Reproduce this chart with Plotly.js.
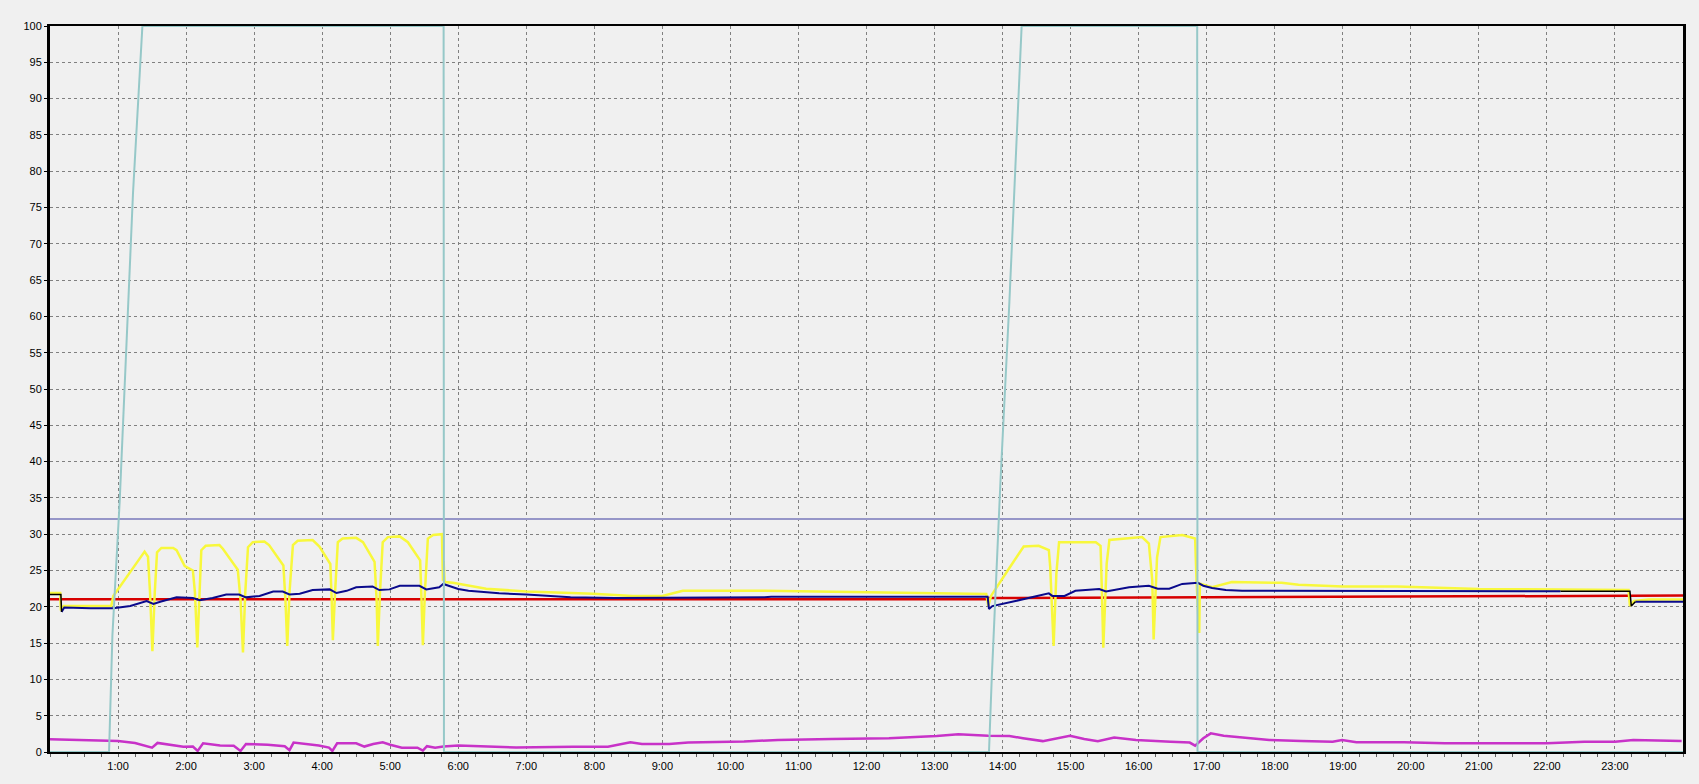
<!DOCTYPE html>
<html>
<head>
<meta charset="utf-8">
<script src="https://cdn.plot.ly/plotly-3.0.1.min.js"></script>
<style>
html,body{margin:0;padding:0;background:#f0f0f0;}
#chart{width:1699px;height:784px;}
</style>
</head>
<body>
<div id="chart"></div>
<script>
// x = hour of day, y = value
const tickHours = [1,2,3,4,5,6,7,8,9,10,11,12,13,14,15,16,17,18,19,20,21,22,23];
const tickLabels = ["1:00","2:00","3:00","4:00","5:00","6:00","7:00","8:00","9:00","10:00","11:00","12:00","13:00","14:00","15:00","16:00","17:00","18:00","19:00","20:00","21:00","22:00","23:00"];

const limitLine = [[0,32.1],[24,32.1]];

const cyanPts = [[0,0],[0.868,0],[0.917,16],[0.976,25.5],[1.025,34.7],[1.22,77],[1.295,90],[1.358,100],
  [5.785,100],[5.79,0],[13.80,0],[13.84,10],[13.97,37.5],[14.1,62],[14.28,100],[16.86,100],[16.865,0],[24,0]];

const redPts = [[0,21.05],[13.78,21.05],[13.8,21.2],[16.85,21.3],[16.9,21.4],[21.0,21.45],[24,21.55]];

const yellowPts = [[0,21.9],[0.15,21.9],[0.16,19.5],[0.2,20.1],[0.9,20.1],[0.93,21.5],[1.39,27.6],[1.44,26.9],[1.47,22],[1.505,13.9],[1.54,22],
  [1.573,27.5],[1.637,28.1],[1.81,28.1],[1.86,27.8],[1.98,25.6],[2.10,25.0],[2.13,22],[2.165,14.4],[2.2,22],
  [2.224,27.8],[2.288,28.4],[2.49,28.5],[2.54,28.0],[2.71,25.7],[2.76,25.1],[2.80,21],[2.836,13.7],[2.87,22],
  [2.91,28.2],[2.98,28.9],[3.15,29.0],[3.22,28.5],[3.37,26.4],[3.43,25.7],[3.46,21],[3.487,14.6],[3.52,22],
  [3.57,28.5],[3.64,29.1],[3.86,29.2],[3.96,28.3],[4.08,26.4],[4.12,25.9],[4.14,21],[4.157,15.4],[4.19,22],
  [4.23,28.9],[4.30,29.4],[4.50,29.5],[4.60,28.9],[4.73,26.9],[4.77,26.2],[4.80,21],[4.818,14.6],[4.85,22],
  [4.89,28.9],[4.965,29.6],[5.14,29.7],[5.26,28.9],[5.41,26.9],[5.44,26.4],[5.46,21],[5.48,14.7],[5.51,22],
  [5.553,29.4],[5.63,29.9],[5.76,30.0],[5.775,23.6],[5.785,26.3],[5.80,23.4],[5.92,23.3],[6.41,22.5],[7.0,22.1],
  [7.98,21.8],[8.56,21.5],[9.0,21.5],[9.30,22.2],[10.5,22.2],[11.3,22.1],[12.3,21.9],[13.2,21.8],[13.76,21.76],
  [13.79,20.1],[13.83,21.5],[14.09,25.2],[14.31,28.3],[14.53,28.4],[14.68,27.8],[14.70,25.5],[14.75,14.6],[14.79,24.5],
  [14.83,28.9],[15.37,28.9],[15.44,28.4],[15.46,22],[15.48,14.35],[15.53,26],[15.57,29.2],[16.05,29.6],[16.15,28.7],
  [16.20,23.6],[16.22,15.5],[16.27,26.8],[16.32,29.6],[16.64,29.9],[16.83,29.4],[16.85,23.6],[16.89,16.4],[16.90,23.2],
  [17.08,22.7],[17.37,23.4],[18.1,23.3],[18.35,23.05],[19.0,22.8],[19.8,22.8],[21.0,22.45],[22.2,22.4],[23.2,22.3],
  [23.22,20.1],[23.28,20.8],[23.5,21.0],[24,21.0]];

const bluePts = [[0.17,19.3],[0.21,19.9],[0.6,19.8],[0.93,19.8],[1.18,20.1],[1.42,20.8],[1.52,20.4],[1.62,20.7],[1.86,21.3],
  [2.1,21.2],[2.2,20.9],[2.39,21.2],[2.59,21.7],[2.78,21.7],[2.88,21.3],[3.08,21.5],[3.28,22.1],[3.42,22.1],[3.52,21.7],
  [3.67,21.8],[3.86,22.3],[4.11,22.4],[4.21,21.9],[4.36,22.2],[4.50,22.7],[4.74,22.8],[4.84,22.3],[4.99,22.4],[5.14,22.9],
  [5.43,22.9],[5.53,22.4],[5.72,22.7],[5.78,23.15],[6.0,22.45],[6.15,22.2],[6.6,21.85],[7.0,21.7],[7.3,21.5],[7.65,21.3],
  [8.3,21.2],[8.9,21.2],[9.3,21.3],[10.5,21.3],[10.6,21.4],[12,21.4],[13.78,21.4],[13.80,19.7],[13.85,20.1],[14.19,20.8],
  [14.49,21.5],[14.68,21.85],[14.73,21.5],[14.91,21.5],[15.07,22.2],[15.42,22.45],[15.52,22.1],[15.86,22.7],[16.15,22.9],
  [16.28,22.5],[16.45,22.5],[16.64,23.15],[16.87,23.3],[16.95,22.9],[17.08,22.6],[17.28,22.3],[17.52,22.2],[19.0,22.2],
  [21.2,22.2],[22.2,22.15],[null,null],[23.3,20.7],[24,20.7]];

const blackPts = [[0,21.7],[0.16,21.7],[0.17,19.3],[null,null],[22.2,22.15],[23.22,22.15],[23.24,20.1],[23.3,20.7]];

const magentaPts = [[0,1.75],[0.5,1.65],[0.9,1.6],[1.0,1.5],[1.25,1.25],[1.45,0.8],[1.5,0.6],[1.58,1.25],[1.7,1.1],[1.96,0.73],
  [2.1,0.75],[2.17,0.15],[2.25,1.2],[2.5,0.9],[2.7,0.85],[2.80,0.15],[2.88,1.1],[3.2,1.0],[3.45,0.8],[3.52,0.25],[3.58,1.3],
  [3.75,1.1],[3.95,0.9],[4.10,0.6],[4.15,0.14],[4.22,1.2],[4.5,1.2],[4.62,0.75],[4.75,1.1],[4.89,1.33],[5.0,1.0],[5.17,0.6],
  [5.4,0.6],[5.48,0.2],[5.54,0.8],[5.66,0.6],[5.78,0.75],[6.0,0.9],[6.43,0.73],[6.85,0.63],[7.69,0.73],[8.2,0.73],[8.53,1.33],
  [8.7,1.1],[9.1,1.1],[9.38,1.3],[10.2,1.45],[10.7,1.65],[11.49,1.8],[12.33,1.88],[13.03,2.2],[13.35,2.43],[13.79,2.25],
  [14.10,2.2],[14.3,1.9],[14.59,1.5],[14.99,2.25],[15.2,1.8],[15.4,1.5],[15.64,2.0],[15.96,1.65],[16.2,1.5],[16.47,1.42],
  [16.75,1.3],[16.83,0.87],[16.95,1.9],[17.06,2.57],[17.25,2.25],[17.6,1.97],[17.92,1.65],[18.39,1.5],[18.85,1.42],[18.99,1.65],
  [19.2,1.33],[19.9,1.33],[20.5,1.2],[21.3,1.19],[22.0,1.19],[22.55,1.42],[23.0,1.42],[23.27,1.65],[23.98,1.51]];

function xs(p){return p.map(d=>d[0]);}
function ys(p){return p.map(d=>d[1]);}
function tr(p,color,width,clip){
  return {x:xs(p),y:ys(p),type:'scatter',mode:'lines',connectgaps:false,
    line:{color:color,width:width},hoverinfo:'skip',cliponaxis:clip===undefined?true:clip};
}

const traces = [
  tr(limitLine,'rgb(150,150,200)',2),
  tr(magentaPts,'rgb(200,50,200)',2.5),
  tr(redPts,'rgb(215,0,0)',2.5),
  tr(yellowPts,'rgb(248,248,60)',2.5),
  tr(bluePts,'rgb(10,10,140)',2),
  tr(blackPts,'rgb(0,0,0)',1.5),
  tr(cyanPts,'rgb(150,200,200)',2,false)
];

const layout = {
  width:1699, height:784,
  paper_bgcolor:'#f0f0f0', plot_bgcolor:'#f0f0f0',
  showlegend:false,
  margin:{l:50,r:16,t:26,b:32,pad:0},
  font:{family:'Liberation Sans, Arial, sans-serif',size:11,color:'#000'},
  xaxis:{
    range:[0,24], tickmode:'array', tickvals:tickHours, ticktext:tickLabels,
    showgrid:true, gridcolor:'#808080', gridwidth:1, griddash:'3px,3px',
    zeroline:false, showline:true, linecolor:'#000', linewidth:2, mirror:true,
    ticks:'outside', ticklen:3, tickcolor:'#606060', tickwidth:1,
    minor:{dtick:0.25, tick0:0, ticks:'outside', ticklen:3, tickcolor:'#606060', showgrid:false},
    layer:'below traces', fixedrange:true,
    tickfont:{family:'Liberation Sans, Arial, sans-serif',size:11,color:'#000'}
  },
  yaxis:{
    range:[0,100], dtick:5, tick0:0,
    showgrid:true, gridcolor:'#808080', gridwidth:1, griddash:'3px,3px',
    zeroline:false, showline:true, linecolor:'#000', linewidth:3, mirror:true,
    ticks:'outside', ticklen:3, tickcolor:'#000', tickwidth:1,
    layer:'below traces', fixedrange:true,
    tickfont:{family:'Liberation Sans, Arial, sans-serif',size:11,color:'#000'}
  }
};

Plotly.newPlot('chart', traces, layout, {staticPlot:true, displayModeBar:false});
</script>
</body>
</html>
